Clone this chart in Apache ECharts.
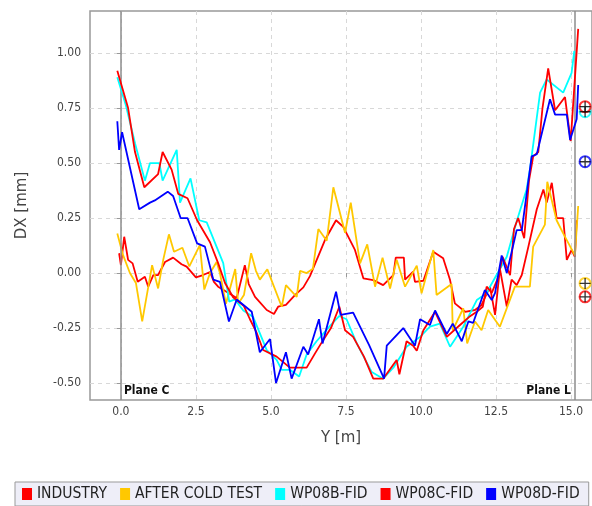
<!DOCTYPE html>
<html><head><meta charset="utf-8">
<script src="https://cdn.jsdelivr.net/npm/echarts@6/dist/echarts.min.js"></script>
<style>html,body{margin:0;padding:0;background:#fff}#c{width:592px;height:506px}</style>
</head><body><div id="c"></div>
<script>
const seriesNames = ['INDUSTRY', 'AFTER COLD TEST', 'WP08B-FID', 'WP08C-FID', 'WP08D-FID'];
const seriesColors = ['#ff0000', '#ffc800', '#00ffff', '#ff0000', '#0000ff'];
const xTicks = [0, 2.5, 5, 7.5, 10, 12.5, 15];
const yTicks = [-0.5, -0.25, 0, 0.25, 0.5, 0.75, 1.0];
const planes = [{x: 0, name: 'Plane C'}, {x: 15.13, name: 'Plane L'}];

const industry = [[-0.06,0.09],[0.0,0.036],[0.11,0.165],[0.24,0.06],[0.39,0.044],[0.56,-0.04],[0.8,-0.017],[0.91,-0.062],[1.08,-0.009],[1.24,-0.009],[1.47,0.05],[1.74,0.07],[2.02,0.04],[2.19,0.029],[2.5,-0.02],[2.74,-0.009],[2.97,0.005],[3.1,-0.04],[3.24,-0.062],[3.6,-0.092],[3.86,-0.113],[4.13,0.036],[4.26,-0.05],[4.47,-0.108],[4.86,-0.168],[5.1,-0.186],[5.24,-0.153],[5.5,-0.145],[5.8,-0.1],[6.08,-0.065],[6.3,-0.014],[6.8,0.15],[7.17,0.24],[7.41,0.21],[7.8,0.105],[8.08,-0.024],[8.41,-0.032],[8.74,-0.055],[9.08,-0.009],[9.16,0.07],[9.43,0.07],[9.47,-0.03],[9.74,0.006],[9.8,-0.04],[10.08,-0.035],[10.41,0.097],[10.74,0.067],[10.97,-0.032],[11.13,-0.138],[11.47,-0.176],[11.8,-0.168],[12.02,-0.145],[12.3,-0.062],[12.47,-0.19],[12.63,0.02],[12.86,-0.153],[13.02,-0.03],[13.19,-0.055],[13.36,-0.009],[13.58,0.12],[13.86,0.29],[14.08,0.38],[14.19,0.32],[14.36,0.41],[14.52,0.25],[14.74,0.25],[14.86,0.06],[15.02,0.105],[15.13,0.074],[15.19,0.24]];
const afterCold = [[-0.12,0.18],[0.06,0.086],[0.3,0.0],[0.5,-0.045],[0.71,-0.22],[1.04,0.036],[1.24,-0.07],[1.41,0.06],[1.6,0.176],[1.77,0.097],[2.05,0.115],[2.28,0.03],[2.63,0.127],[2.78,-0.075],[2.97,0.0],[3.19,0.05],[3.3,0.0],[3.5,-0.14],[3.81,0.018],[3.91,-0.14],[4.1,-0.1],[4.34,0.09],[4.5,0.01],[4.63,-0.03],[4.88,0.017],[5.36,-0.153],[5.5,-0.055],[5.86,-0.108],[5.97,0.01],[6.19,0.0],[6.4,0.02],[6.58,0.2],[6.86,0.147],[7.08,0.39],[7.47,0.183],[7.66,0.32],[7.97,0.044],[8.21,0.13],[8.47,-0.062],[8.72,0.07],[8.97,-0.07],[9.19,0.06],[9.47,-0.062],[9.86,0.034],[10.02,-0.092],[10.41,0.105],[10.52,-0.1],[11.02,-0.05],[11.06,-0.26],[11.41,-0.16],[11.54,-0.32],[11.8,-0.22],[12.02,-0.26],[12.24,-0.168],[12.63,-0.244],[13.13,-0.062],[13.63,-0.062],[13.74,0.12],[14.13,0.22],[14.21,0.415],[14.52,0.24],[14.74,0.18],[15.13,0.08],[15.24,0.305]];
const wp08b = [[-0.12,0.89],[0.17,0.76],[0.47,0.59],[0.8,0.42],[0.97,0.5],[1.28,0.5],[1.39,0.42],[1.86,0.56],[1.97,0.32],[2.32,0.43],[2.61,0.24],[2.86,0.23],[3.41,0.045],[3.61,-0.13],[3.8,-0.12],[4.08,-0.17],[4.41,-0.2],[4.86,-0.35],[5.19,-0.395],[5.36,-0.44],[5.63,-0.44],[5.94,-0.47],[6.19,-0.37],[6.52,-0.31],[6.97,-0.24],[7.28,-0.195],[7.52,-0.21],[7.86,-0.32],[8.36,-0.45],[8.74,-0.48],[9.08,-0.43],[9.52,-0.335],[9.97,-0.29],[10.3,-0.244],[10.63,-0.23],[10.97,-0.335],[11.41,-0.244],[11.86,-0.123],[12.19,-0.092],[12.3,-0.062],[12.86,0.074],[13.19,0.235],[13.52,0.38],[13.63,0.47],[13.97,0.82],[14.19,0.88],[14.74,0.82],[15.02,0.91],[15.11,1.01]];
const wp08c = [[-0.12,0.92],[0.24,0.75],[0.47,0.55],[0.78,0.39],[1.24,0.45],[1.39,0.55],[1.69,0.47],[1.91,0.36],[2.22,0.34],[2.54,0.24],[2.97,0.14],[3.24,0.045],[3.47,-0.045],[3.74,-0.11],[4.1,-0.15],[4.3,-0.21],[4.52,-0.27],[4.74,-0.35],[5.19,-0.38],[5.63,-0.43],[6.19,-0.43],[6.47,-0.365],[6.74,-0.305],[7.0,-0.25],[7.28,-0.153],[7.47,-0.26],[7.74,-0.29],[8.1,-0.38],[8.41,-0.48],[8.74,-0.48],[9.19,-0.395],[9.28,-0.46],[9.52,-0.31],[9.74,-0.33],[9.86,-0.353],[10.08,-0.26],[10.47,-0.176],[10.86,-0.29],[11.3,-0.236],[11.6,-0.2],[11.86,-0.176],[12.06,-0.153],[12.19,-0.062],[12.36,-0.09],[12.58,-0.017],[12.72,0.074],[12.97,-0.01],[13.1,0.2],[13.24,0.25],[13.44,0.158],[13.6,0.42],[13.74,0.53],[13.91,0.55],[14.05,0.75],[14.24,0.93],[14.47,0.74],[14.8,0.8],[14.99,0.6],[15.24,1.11]];
const wp08d = [[-0.12,0.69],[-0.06,0.56],[0.04,0.64],[0.61,0.29],[0.97,0.32],[1.13,0.33],[1.56,0.37],[1.74,0.35],[1.99,0.25],[2.22,0.25],[2.54,0.135],[2.8,0.12],[3.08,-0.03],[3.3,-0.04],[3.6,-0.22],[3.86,-0.12],[4.36,-0.176],[4.63,-0.36],[4.97,-0.3],[5.17,-0.5],[5.5,-0.36],[5.69,-0.48],[6.08,-0.335],[6.24,-0.37],[6.6,-0.21],[6.72,-0.32],[7.17,-0.085],[7.32,-0.19],[7.74,-0.18],[8.28,-0.33],[8.77,-0.48],[8.86,-0.33],[9.41,-0.25],[9.8,-0.33],[9.97,-0.21],[10.3,-0.236],[10.47,-0.17],[10.86,-0.277],[11.06,-0.23],[11.36,-0.31],[11.58,-0.22],[11.74,-0.226],[12.13,-0.077],[12.36,-0.123],[12.47,-0.09],[12.69,0.08],[12.86,0.0],[13.19,0.195],[13.36,0.195],[13.69,0.53],[13.86,0.54],[14.3,0.79],[14.47,0.72],[14.86,0.72],[14.97,0.605],[15.19,0.7],[15.24,0.855]];
const seriesData = [industry, afterCold, wp08b, wp08c, wp08d];

// markers at the right edge
const markerX = 15.47;
const markerY = [0.733, 0.756, 0.506, -0.047, -0.108];
const markerSeries = [2, 0, 4, 1, 3];

const FONT = '"DejaVu Sans Condensed", "DejaVu Sans", sans-serif';
const chart = echarts.init(document.getElementById('c'));

const series = seriesNames.map((n, i) => ({
  name: n, type: 'line', data: seriesData[i], showSymbol: false, symbol: 'none',
  lineStyle: {color: seriesColors[i], width: 1.8}, itemStyle: {color: seriesColors[i]},
  animation: false, z: 3 + i
}));
series.push({
  type: 'line', data: [], silent: true, animation: false,
  markLine: {
    symbol: 'none', silent: true, animation: false,
    lineStyle: {color: '#8c8c8c', width: 1.5, type: 'solid'},
    label: {show: false},
    data: planes.map(p => ({xAxis: p.x}))
  }
});
series.push({
  type: 'scatter', silent: true, animation: false, z: 20,
  data: markerY.map((v, i) => ({value: [markerX, v], itemStyle: {borderColor: seriesColors[markerSeries[i]]}})),
  symbol: 'circle', symbolSize: 11,
  itemStyle: {color: '#ffffff', borderWidth: 2}
});
series.push({
  type: 'scatter', silent: true, animation: false, z: 21,
  data: markerY.map(v => [markerX, v]),
  symbol: 'path://M0,4.4h10v1.2h-10z M4.4,0h1.2v10h-1.2z', symbolSize: 11,
  itemStyle: {color: '#000000'}
});

chart.setOption({
  animation: false,
  textStyle: {fontFamily: FONT},
  grid: {left: 90, top: 11, right: 0, bottom: 106, show: true, borderColor: '#999999', borderWidth: 1.5, backgroundColor: '#ffffff'},
  legend: {
    data: seriesNames, left: 15, bottom: 0,
    backgroundColor: '#eeeef8', borderColor: '#999999', borderWidth: 1, padding: [4, 9, 4, 7],
    icon: 'rect', itemWidth: 10, itemHeight: 12, itemGap: 13,
    textStyle: {fontFamily: FONT, fontSize: 15.5, color: '#222222'}
  },
  xAxis: {
    type: 'value', min: -1.03, max: 15.70,
    name: 'Y [m]', nameLocation: 'middle', nameGap: 31,
    nameTextStyle: {fontFamily: '"DejaVu Sans", sans-serif', fontSize: 15, color: '#444444'},
    axisLine: {show: false},
    axisTick: {show: true, length: 4, lineStyle: {color: '#999999'}, customValues: xTicks},
    axisLabel: {customValues: xTicks, formatter: v => Number(v).toFixed(1), fontSize: 12, color: '#444444', margin: 6, fontFamily: FONT},
    splitLine: {show: true, lineStyle: {color: '#d8d8d8', type: [4, 4], width: 1}}
  },
  yAxis: {
    type: 'value', min: -0.577, max: 1.191,
    name: 'DX [mm]', nameLocation: 'middle', nameGap: 60, nameRotate: 90,
    nameTextStyle: {fontFamily: '"DejaVu Sans", sans-serif', fontSize: 15, color: '#444444'},
    axisLine: {show: false},
    axisTick: {show: true, length: 4, lineStyle: {color: '#999999'}, customValues: yTicks},
    axisLabel: {customValues: yTicks, formatter: v => Number(v).toFixed(2), fontSize: 12, color: '#444444', margin: 9, fontFamily: FONT},
    splitLine: {show: true, lineStyle: {color: '#d8d8d8', type: [4, 4], width: 1}}
  },
  series: series
});

// plane labels
const graphics = planes.map((p, i) => {
  const pt = chart.convertToPixel({gridIndex: 0}, [p.x, -0.577]);
  return {
    type: 'text', z: 50,
    x: i === 0 ? pt[0] + 3 : pt[0] - 4, y: pt[1] - 3,
    style: {text: p.name, font: 'bold 12px ' + FONT, fill: '#111111',
      textAlign: i === 0 ? 'left' : 'right', textVerticalAlign: 'bottom'}
  };
});
chart.setOption({graphic: graphics});
</script></body></html>
